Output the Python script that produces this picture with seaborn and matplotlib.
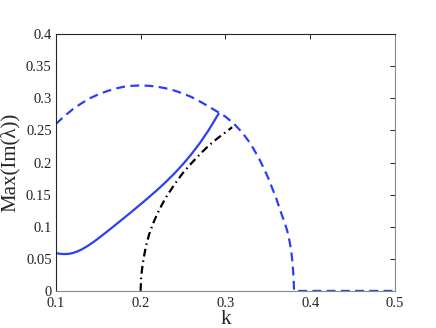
import seaborn as sns
import matplotlib.pyplot as plt

# 数据
k_dash = [0.10, 0.11, 0.12, 0.13, 0.14, 0.15, 0.16, 0.17, 0.18, 0.19, 0.20, 0.21, 0.22,
          0.23, 0.24, 0.25, 0.26, 0.27, 0.28, 0.29, 0.30, 0.31, 0.32, 0.33, 0.34, 0.35,
          0.36, 0.365, 0.37, 0.373, 0.376, 0.378, 0.379, 0.380, 0.3805, 0.381, 0.4, 0.45, 0.5]
im_dash = [0.260, 0.272, 0.283, 0.292, 0.300, 0.306, 0.311, 0.315, 0.318, 0.3195, 0.320, 0.3195, 0.318,
           0.3155, 0.312, 0.3075, 0.302, 0.295, 0.2875, 0.2795, 0.2715, 0.2605, 0.2465, 0.2285, 0.2055, 0.1775,
           0.144, 0.124, 0.106, 0.093, 0.075, 0.058, 0.045, 0.028, 0.015, 0.0, 0.0, 0.0, 0.0]

k_solid = [0.100, 0.105, 0.110, 0.115, 0.120, 0.125, 0.130, 0.135, 0.140, 0.145, 0.150, 0.160,
           0.170, 0.180, 0.190, 0.200, 0.210, 0.220, 0.230, 0.240, 0.250, 0.260, 0.270, 0.280, 0.292]
im_solid = [0.0590, 0.0578, 0.0574, 0.0577, 0.0590, 0.0613, 0.0643, 0.0680, 0.0722, 0.0768, 0.0817, 0.0920,
            0.1025, 0.1132, 0.1240, 0.1350, 0.1462, 0.1578, 0.1700, 0.1832, 0.1975, 0.2132, 0.2305, 0.2500, 0.2760]

k_dashdot = [0.2000, 0.2005, 0.2010, 0.2020, 0.2030, 0.2050, 0.2070, 0.2100, 0.2150, 0.2200,
             0.2250, 0.2300, 0.2400, 0.2500, 0.2600, 0.2700, 0.2800, 0.2900, 0.3000, 0.3080]
im_dashdot = [0.000, 0.018, 0.026, 0.037, 0.046, 0.061, 0.073, 0.088, 0.106, 0.121,
              0.134, 0.146, 0.166, 0.184, 0.199, 0.213, 0.226, 0.237, 0.247, 0.255]

x_ticks = [0.1, 0.2, 0.3, 0.4, 0.5]
y_ticks = [0, 0.05, 0.1, 0.15, 0.2, 0.25, 0.3, 0.35, 0.4]

sns.set_style('white')
plt.rcParams['font.family'] = ['Liberation Serif', 'DejaVu Serif']
plt.rcParams['xtick.direction'] = 'in'
plt.rcParams['ytick.direction'] = 'in'

fig = plt.figure(figsize=(4.36, 3.28), dpi=100)
ax = fig.add_axes([0.128, 0.113, 0.778, 0.783])

blue = '#2a40f5'
sns.lineplot(x=k_dash, y=im_dash, ax=ax, color=blue, lw=1.6, sort=False)
ax.lines[-1].set_dashes([4, 2.4])
sns.lineplot(x=k_solid, y=im_solid, ax=ax, color=blue, lw=1.6, sort=False)
sns.lineplot(x=k_dashdot, y=im_dashdot, ax=ax, color='black', lw=1.6, sort=False)
ax.lines[-1].set_dashes([3.5, 1.8, 0.7, 1.8])

ax.set_xlim(0.1, 0.5)
ax.set_ylim(0, 0.4)
ax.set_xticks(x_ticks)
ax.set_yticks(y_ticks)
ax.set_xticklabels(['%g' % t for t in x_ticks])
ax.set_yticklabels(['%g' % t for t in y_ticks])
ax.tick_params(labelsize=10.5, length=3.5, width=0.7, top=True, right=True, pad=3, colors='#222222')
ax.tick_params(axis='x', pad=4.5)
for side in ['top', 'left']:
    ax.spines[side].set_color('#262626')
for side in ['bottom', 'right']:
    ax.spines[side].set_color('#888888')
for s in ax.spines.values():
    s.set_linewidth(0.8)

ax.set_xlabel('k', fontsize=15, labelpad=0)
ax.set_ylabel('Max(Im(λ))', fontsize=15, labelpad=4)

fig.savefig('out.png', dpi=100)
